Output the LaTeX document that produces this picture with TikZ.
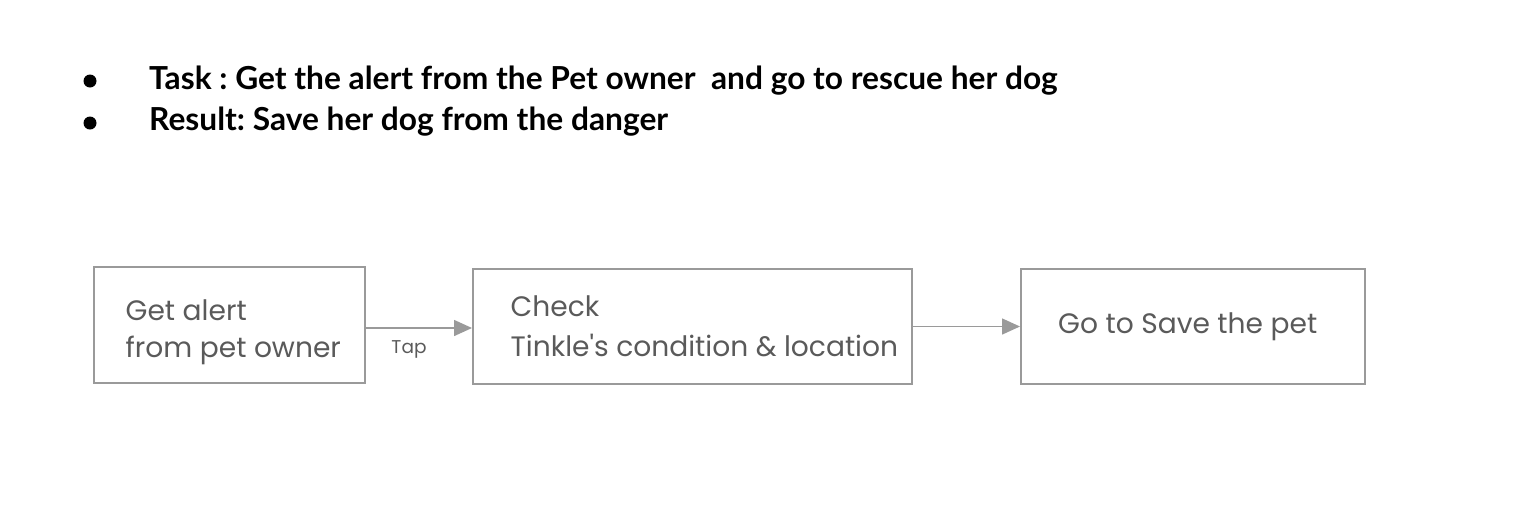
\documentclass[tikz,border=0pt]{standalone}
\usepackage{fontspec}
\setmainfont{Lato}
\newfontfamily\boxfont{Poppins}
\usetikzlibrary{arrows.meta}
\definecolor{edgegray}{HTML}{9A9A9A}
\definecolor{txtgray}{HTML}{5A5A5A}
\tikzset{
  flowbox/.style={draw=edgegray, line width=2pt, rectangle, inner sep=0pt},
  boxtext/.style={anchor=base west, inner sep=0pt, font=\boxfont\fontsize{28.1}{36}\selectfont, text=txtgray, align=left},
  headtext/.style={anchor=base west, inner sep=0pt, font=\bfseries\fontsize{31.7}{36}\selectfont},
  bulletdot/.style={circle, fill=black, inner sep=0pt, minimum size=13pt},
  flowarrow/.style={draw=edgegray, line width=1.5pt, -{Triangle[length=18pt,width=16pt]}},
  taplabel/.style={anchor=base, inner sep=0pt, font=\boxfont\fontsize{18.5}{20}\selectfont, text=txtgray}
}
\frenchspacing
\begin{document}
\begin{tikzpicture}[x=1pt,y=-1pt]
\useasboundingbox (0,0) rectangle (1530,512);
% bullets
\node[bulletdot] (b1) at (90,81) {};
\node[bulletdot] (b2) at (90,123) {};
\node[headtext] (t1) at (149,89) {Task : Get the alert from the Pet owner\ \ and go to rescue her dog};
\node[headtext] (t2) at (149,130) {Result: Save her dog from the danger};
% boxes
\node[flowbox, minimum width=271pt, minimum height=116pt] (box1) at (229.5,325) {};
\node[flowbox, minimum width=439pt, minimum height=115pt] (box2) at (692.5,326.5) {};
\node[flowbox, minimum width=344pt, minimum height=115pt] (box3) at (1193,326.5) {};
% box texts
\node[boxtext] (l1a) at (125.5,320) {Get alert};
\node[boxtext] (l1b) at (125.5,357) {from pet owner};
\node[boxtext] (l2a) at (510.5,316) {Check};
\node[boxtext] (l2b) at (510.5,356) {Tinkle's condition \& location};
\node[boxtext] (l3) at (1058,333) {Go to Save the pet};
% connectors
\draw[flowarrow] ([yshift=-3pt]box1.east) -- ([yshift=-3pt]box1.east -| box2.west);
\draw[flowarrow] (box2.east) -- (box2.east -| box3.west);
\node[taplabel] (tap) at (409,353) {Tap};
\end{tikzpicture}
\end{document}
